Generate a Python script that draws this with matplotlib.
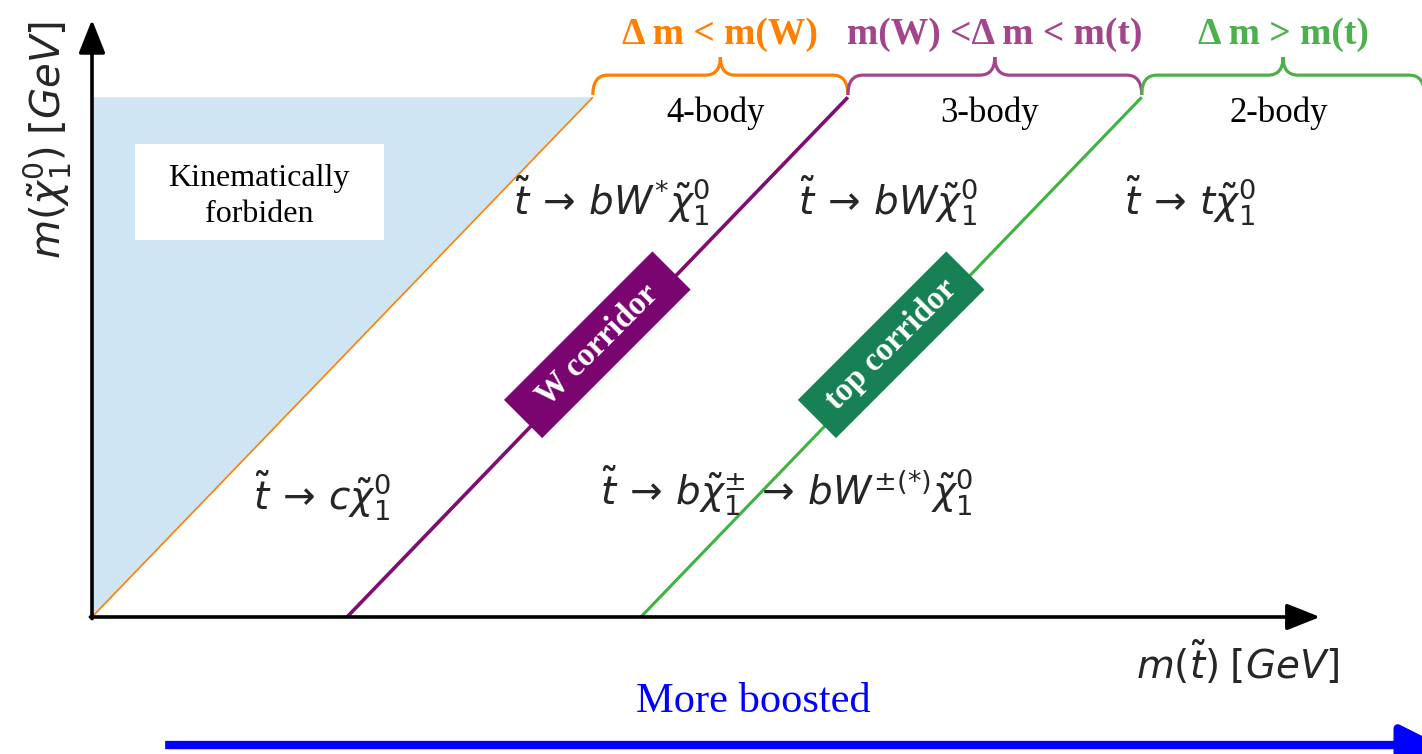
import numpy as np
import matplotlib
matplotlib.use('Agg')
import matplotlib.pyplot as plt
from matplotlib.path import Path
from matplotlib.patches import PathPatch, Rectangle, Polygon
import matplotlib.transforms as mtransforms

plt.rcParams['mathtext.fontset'] = 'dejavusans'
SERIF = ['Liberation Serif', 'DejaVu Serif']

# mass splittings dm = m(stop) - m(chi) separating the decay regimes [GeV]
dm_bounds = [0.0, 80.2, 172.6]
bound_colors = ['#ff8000', '#7d0f73', '#3fb33f']
bound_widths = [1.2, 2.6, 2.2]
chi_max = 157.5          # top of the drawn m(chi) range [GeV]
stop_max = 419.0         # right end of the 2-body region [GeV]

regime_titles = ['Δ m < m(W)', 'm(W) <Δ m < m(t)', 'Δ m > m(t)']
regime_colors = ['#ff8000', '#a3458a', '#4cb04c']
regime_bodies = ['4-body', '3-body', '2-body']

upper_decays = [r'$\tilde{t}\,\rightarrow\,bW^{*}\tilde{\chi}^0_1$',
                r'$\tilde{t}\,\rightarrow\,bW\tilde{\chi}^0_1$',
                r'$\tilde{t}\,\rightarrow\,t\tilde{\chi}^0_1$']
upper_decay_x = [163.5, 250.3, 345.3]

corridor_names = ['W corridor', 'top corridor']
corridor_colors = ['#7a0570', '#188055']
corridor_chi = 82.5      # m(chi) at which the corridor tags sit

fig = plt.figure(figsize=(14.22, 7.54), dpi=100)
ax = fig.add_axes([0, 0, 1, 1])
ax.set_xlim(-28.93, 418.24)
ax.set_ylim(-41.52, 186.97)
ax.axis('off')

# kinematically forbidden region: m(stop) < m(chi)
ax.add_patch(Polygon([(0, 0), (chi_max, chi_max), (0, chi_max)],
                     closed=True, facecolor='#cfe5f3', edgecolor='none', zorder=1))
ax.add_patch(Rectangle((13.5, 114.2), 78.3, 29.1, facecolor='white',
                       edgecolor='none', zorder=2))
ax.text(52.6, 127.4, 'Kinematically\nforbiden', ha='center', va='center',
        fontsize=23, family=SERIF, linespacing=1.3, zorder=3)

# boundary lines of constant mass splitting
m_chi = np.array([0.0, chi_max])
for dm, c, lw in zip(dm_bounds, bound_colors, bound_widths):
    ax.plot(m_chi + dm, m_chi, color=c, lw=lw, solid_capstyle='butt', zorder=3)


def brace(x0, x1, color, yb=158.2, yh=164.2, yt=169.7, r=4.7):
    xc = 0.5 * (x0 + x1)
    verts = [(x0, yb), (x0, yh), (x0 + r, yh), (xc - r, yh), (xc, yh), (xc, yt),
             (xc, yh), (xc + r, yh), (x1 - r, yh), (x1, yh), (x1, yb)]
    codes = [Path.MOVETO, Path.CURVE3, Path.CURVE3, Path.LINETO, Path.CURVE3,
             Path.CURVE3, Path.CURVE3, Path.CURVE3, Path.LINETO, Path.CURVE3,
             Path.CURVE3]
    ax.add_patch(PathPatch(Path(verts, codes), facecolor='none',
                           edgecolor=color, lw=2.3, zorder=4))
    return xc


edges = [dm + chi_max for dm in dm_bounds] + [stop_max]
for i in range(3):
    xc = brace(edges[i], edges[i + 1], regime_colors[i])
    ax.text(xc, 176.4, regime_titles[i], ha='center', va='center', fontsize=27,
            fontweight='bold', family=SERIF, color=regime_colors[i])
    ax.text(xc - 1.5, 152.5, regime_bodies[i], ha='center', va='center',
            fontsize=25, family=SERIF)

# decay modes in each region
math_color = '#262626'
for label, x in zip(upper_decays, upper_decay_x):
    ax.text(x, 126.0, label, ha='center', va='center', fontsize=28, color=math_color)
ax.text(72.3, 36.6, r'$\tilde{t}\,\rightarrow\,c\tilde{\chi}^0_1$',
        ha='center', va='center', fontsize=28, color=math_color)
ax.text(218.5, 38.2,
        r'$\tilde{t}\,\rightarrow\,b\tilde{\chi}^{\pm}_1\,\rightarrow\,bW^{\pm(*)}\tilde{\chi}^0_1$',
        ha='center', va='center', fontsize=28, color=math_color)

# corridor tags sitting on the W and top boundaries
for name, dm, c in zip(corridor_names, dm_bounds[1:], corridor_colors):
    cx, cy = corridor_chi + dm - 3.8, corridor_chi
    tr = (mtransforms.Affine2D().rotate_deg(45) + fig.dpi_scale_trans
          + mtransforms.ScaledTranslation(cx, cy, ax.transData))
    ax.add_patch(Rectangle((-1.05, -0.27), 2.10, 0.54, transform=tr,
                           facecolor=c, edgecolor='none', zorder=5))
    ax.text(cx, cy, name, rotation=45, rotation_mode='anchor', ha='center',
            va='center', color='white', fontsize=23.5, fontweight='bold',
            family=SERIF, zorder=6)

# axes with arrow heads
arrow = dict(arrowstyle='-|>,head_length=0.68,head_width=0.27', color='black',
             lw=2.6, mutation_scale=30, shrinkA=0, shrinkB=0)
ax.annotate('', xy=(0, 181.0), xytext=(0, -0.5), arrowprops=arrow, zorder=7)
ax.annotate('', xy=(386.2, 0), xytext=(-0.5, 0), arrowprops=arrow, zorder=7)

ax.text(-13.8, 144.5, r'$m(\tilde{\chi}^0_1)\;[GeV]$', rotation=90,
        ha='center', va='center', fontsize=29, color=math_color)
ax.text(360.4, -14.0, r'$m(\tilde{t})\;[GeV]$', ha='center', va='center',
        fontsize=28, color=math_color)

# boost direction
ax.text(207.9, -25.8, 'More boosted', ha='center', va='center', fontsize=30.5,
        family=SERIF, color='#0000ff')
ax.annotate('', xy=(424.0, -38.8), xytext=(23.0, -38.8), annotation_clip=False,
            arrowprops=dict(arrowstyle='-|>,head_length=0.8,head_width=0.4',
                            color='#0000ff', lw=6, mutation_scale=30,
                            shrinkA=0, shrinkB=0, capstyle='butt'))

fig.savefig('out.png', dpi=100)
